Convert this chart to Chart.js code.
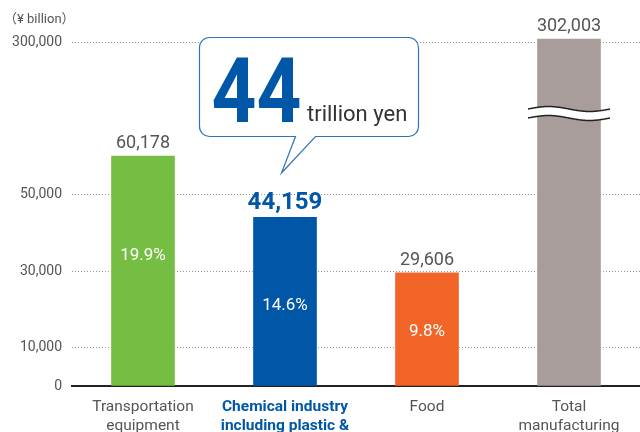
<!DOCTYPE html>
<html>
<head>
<meta charset="utf-8">
<script src="https://cdn.jsdelivr.net/npm/chart.js@4"></script>
<style>
  html, body { margin: 0; padding: 0; background: #fff; }
  #wrap { width: 640px; height: 432px; }
</style>
</head>
<body>
<div id="wrap"><canvas id="chart" width="640" height="432"></canvas></div>
<script>
// Datos del gráfico
const categories = [
    ['Transportation', 'equipment'],
    ['Chemical industry', 'including plastic &'],
    ['Food'],
    ['Total', 'manufacturing']
];
const values = [60178, 44159, 29606, 302003];
const shares = [19.9, 14.6, 9.8, null];
const yTicks = [0, 10000, 30000, 50000, 300000];
const unitLabel = '（¥ billion）';
const calloutBig = '44';
const calloutUnit = 'trillion yen';

const barColors = ['#76be43', '#0057a8', '#f26529', '#a89d9b'];
const textGray = '#555555';
const highlight = 1; // índice de la categoría destacada

// Eje Y cortado: [valor real, valor en eje]
const breakMap = [[0, 0], [70000, 70000], [300000, 90000], [400000, 130000]];

function squash(v) {
    for (let i = 1; i < breakMap.length; i++) {
        const [r0, a0] = breakMap[i - 1];
        const [r1, a1] = breakMap[i];
        if (v <= r1 || i === breakMap.length - 1) {
            return a0 + (v - r0) * (a1 - a0) / (r1 - r0);
        }
    }
    return v;
}

function unsquash(a) {
    for (let i = 1; i < breakMap.length; i++) {
        const [r0, a0] = breakMap[i - 1];
        const [r1, a1] = breakMap[i];
        if (a <= a1 || i === breakMap.length - 1) {
            return r0 + (a - a0) * (r1 - r0) / (a1 - a0);
        }
    }
    return a;
}

class BrokenScale extends Chart.LinearScale {
    buildTicks() {
        return yTicks.map(v => ({ value: v }));
    }
    getPixelForValue(value) {
        return super.getPixelForValue(squash(value));
    }
    getValueForPixel(pixel) {
        return unsquash(super.getValueForPixel(pixel));
    }
}
BrokenScale.id = 'broken';
BrokenScale.defaults = Chart.LinearScale.defaults;
Chart.register(BrokenScale);

const fmt = v => v.toLocaleString('en-US');

const labelsPlugin = {
    id: 'barLabels',
    afterDatasetsDraw(chart) {
        const ctx = chart.ctx;
        const meta = chart.getDatasetMeta(0);
        const yScale = chart.scales.y;
        ctx.save();

        // corte de la barra total
        const totalBar = meta.data[3];
        const yb = yScale.getPixelForValue(85000);
        const x0 = totalBar.x - 41, x1 = totalBar.x + 41;
        const wave = (x, off) => yb + off - 2.5 * Math.sin((x - x0) / (x1 - x0) * Math.PI * 2);
        ctx.beginPath();
        for (let x = x0; x <= x1; x++) ctx.lineTo(x, wave(x, -4.5));
        for (let x = x1; x >= x0; x--) ctx.lineTo(x, wave(x, 4.5));
        ctx.closePath();
        ctx.fillStyle = '#fff';
        ctx.fill();
        ctx.strokeStyle = '#222';
        ctx.lineWidth = 1.5;
        [-4.5, 4.5].forEach(off => {
            ctx.beginPath();
            for (let x = x0; x <= x1; x++) ctx.lineTo(x, wave(x, off));
            ctx.stroke();
        });

        // valores sobre las barras y porcentajes
        const shareOffsets = [-15, 4, 3, 0];
        ctx.textAlign = 'center';
        meta.data.forEach((bar, i) => {
            ctx.textBaseline = 'alphabetic';
            if (i === highlight) {
                ctx.font = 'bold 24px Roboto';
                ctx.fillStyle = barColors[highlight];
            } else {
                ctx.font = '18px Roboto';
                ctx.fillStyle = textGray;
            }
            ctx.fillText(fmt(values[i]), bar.x, bar.y - 8);

            if (shares[i] !== null) {
                ctx.font = '17px Roboto';
                ctx.fillStyle = '#fff';
                ctx.textBaseline = 'middle';
                ctx.fillText(shares[i].toFixed(1) + '%', bar.x, (bar.y + bar.base) / 2 + shareOffsets[i]);
            }
        });

        // unidad
        ctx.textAlign = 'left';
        ctx.textBaseline = 'middle';
        ctx.font = '13px Roboto, "Noto Sans CJK JP"';
        ctx.fillStyle = textGray;
        ctx.fillText(unitLabel, 4, 20);
        ctx.restore();
    },
    afterDraw(chart) {
        // globo de diálogo
        const ctx = chart.ctx;
        const bar = chart.getDatasetMeta(0).data[highlight];
        const cx = bar.x;
        const left = cx - 85.5, right = cx + 133.5, top = 37.5, bottom = 136.5, r = 10;
        ctx.save();
        ctx.beginPath();
        ctx.moveTo(left + r, top);
        ctx.lineTo(right - r, top);
        ctx.arcTo(right, top, right, top + r, r);
        ctx.lineTo(right, bottom - r);
        ctx.arcTo(right, bottom, right - r, bottom, r);
        ctx.lineTo(cx + 30.5, bottom);
        ctx.lineTo(cx - 3.5, 173);
        ctx.lineTo(cx + 10.5, bottom);
        ctx.lineTo(left + r, bottom);
        ctx.arcTo(left, bottom, left, bottom - r, r);
        ctx.lineTo(left, top + r);
        ctx.arcTo(left, top, left + r, top, r);
        ctx.closePath();
        ctx.fillStyle = '#fff';
        ctx.fill();
        ctx.strokeStyle = '#2f72bd';
        ctx.lineWidth = 1.2;
        ctx.stroke();

        // número grande, comprimido en horizontal
        ctx.textAlign = 'left';
        ctx.textBaseline = 'alphabetic';
        ctx.save();
        ctx.translate(cx - 73.5, 122);
        ctx.scale(0.87, 1);
        ctx.font = 'bold 90px Roboto';
        ctx.fillStyle = barColors[highlight];
        ctx.fillText(calloutBig, 0, 0);
        ctx.restore();

        ctx.font = '22px Roboto';
        ctx.fillStyle = '#333';
        ctx.fillText(calloutUnit, cx + 22, 121);
        ctx.restore();
    }
};

const ctx = document.getElementById('chart').getContext('2d');
new Chart(ctx, {
    type: 'bar',
    data: {
        labels: categories,
        datasets: [{
            data: values,
            backgroundColor: barColors,
            barThickness: 63
        }]
    },
    options: {
        responsive: false,
        animation: false,
        layout: { padding: { top: 30, left: 0, right: 0, bottom: 0 } },
        plugins: {
            legend: { display: false },
            tooltip: { enabled: false }
        },
        scales: {
            x: {
                grid: { display: false },
                border: { display: true, color: '#222', width: 2 },
                afterFit: s => { s.height = 46; },
                ticks: {
                    padding: 3,
                    color: c => c.index === highlight ? barColors[highlight] : textGray,
                    font: c => c.index === highlight
                        ? { family: 'Roboto', size: 15.5, weight: 'bold', lineHeight: 1.25 }
                        : { family: 'Roboto', size: 15.5, lineHeight: 1.25 }
                }
            },
            y: {
                type: 'broken',
                min: 0,
                max: 93157,
                afterFit: s => { s.width = 72; },
                grid: {
                    drawTicks: false,
                    color: c => c.tick && c.tick.value === 0 ? 'rgba(0,0,0,0)' : '#9a9a9a',
                    lineWidth: 1
                },
                border: { display: false, dash: [1, 2] },
                ticks: {
                    autoSkip: false,
                    padding: 10,
                    color: textGray,
                    font: { family: 'Roboto', size: 14 },
                    callback: v => fmt(v)
                }
            }
        }
    },
    plugins: [labelsPlugin]
});
</script>
</body>
</html>
